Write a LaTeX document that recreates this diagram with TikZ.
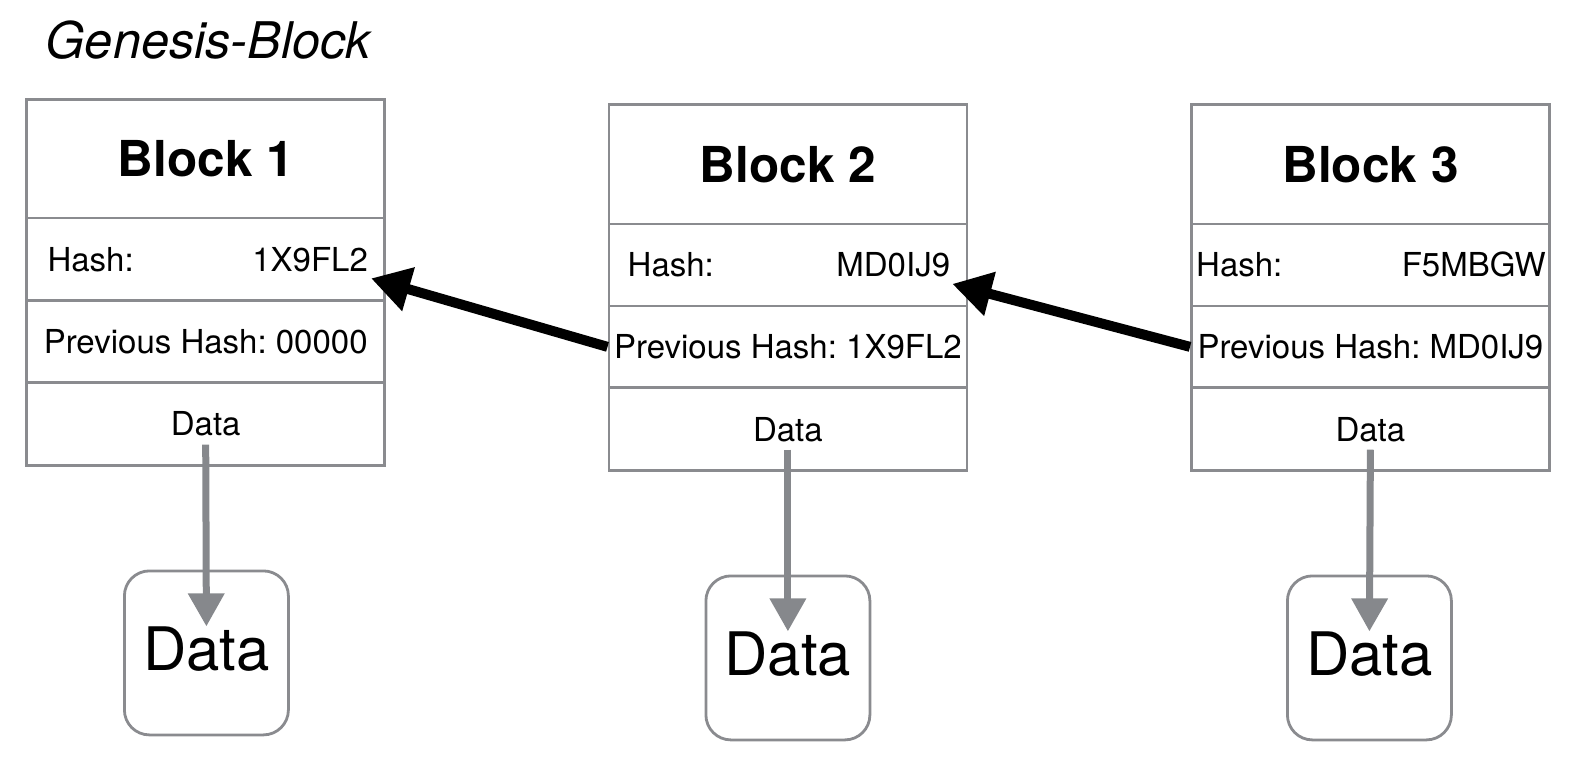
\documentclass[tikz,border=0pt]{standalone}
\usepackage{fontspec}
\setmainfont{TeX Gyre Heros}
\usetikzlibrary{arrows.meta}
\definecolor{bordergray}{HTML}{8A8B8F}
\definecolor{arrowgray}{HTML}{86888C}
\frenchspacing
\begin{document}
\begin{tikzpicture}[x=1pt,y=-1pt,
  cell/.style={draw=bordergray, line width=2.8pt, minimum width=358pt, inner sep=0pt, anchor=north west},
  rowfont/.style={font=\fontsize{33}{38}\selectfont},
  titlefont/.style={font=\fontsize{49.5}{56}\selectfont\bfseries},
  txt/.style={inner sep=0pt, rowfont},
  databox/.style={draw=bordergray, line width=2.8pt, rounded corners=25pt, minimum width=164pt, minimum height=164pt, inner sep=0pt, anchor=north west},
  bigtxt/.style={inner sep=0pt, font=\fontsize{60}{66}\selectfont},
  grayarrow/.style={draw=arrowgray, line width=7pt, -{Triangle[length=33pt,width=35pt]}, arrowgray},
  blackarrow/.style={draw=black, line width=10pt, -{Triangle[length=39pt,width=43pt]}}
]
\useasboundingbox (0,0) rectangle (1586,774);

\node[anchor=west, inner sep=0pt, font=\fontsize{50.5}{56}\selectfont\itshape] (gen) at (45.5,40.5) {Genesis-Block};

% Block 1
\node[cell, minimum height=118.4pt, titlefont] (b1t) at (25.3,98.1) {Block 1};
\node[cell, minimum height=82.9pt] (b1h) at (25.3,216.5) {};
\node[txt, anchor=west] (b1hl) at ([xshift=22pt]b1h.west) {Hash:};
\node[txt, anchor=east] (b1hv) at ([xshift=-18pt]b1h.east) {1X9FL2};
\node[cell, minimum height=81.9pt, rowfont] (b1p) at (25.3,299.4) {Previous Hash: 00000};
\node[cell, minimum height=83pt] (b1d) at (25.3,381.3) {};
\node[txt] (b1dt) at (b1d.center) {Data};

% Block 2
\node[cell, minimum height=119.3pt, titlefont] (b2t) at (607.5,103.2) {Block 2};
\node[cell, minimum height=82pt] (b2h) at (607.5,222.5) {};
\node[txt, anchor=west] (b2hl) at ([xshift=20pt]b2h.west) {Hash:};
\node[txt, anchor=east] (b2hv) at ([xshift=-18pt]b2h.east) {MD0IJ9};
\node[cell, minimum height=81.9pt, rowfont] (b2p) at (607.5,304.5) {Previous Hash: 1X9FL2};
\node[cell, minimum height=82.9pt] (b2d) at (607.5,386.4) {};
\node[txt] (b2dt) at (b2d.center) {Data};

% Block 3
\node[cell, minimum height=119.3pt, titlefont] (b3t) at (1190,103.2) {Block 3};
\node[cell, minimum height=82pt] (b3h) at (1190,222.5) {};
\node[txt, anchor=west] (b3hl) at ([xshift=6pt]b3h.west) {Hash:};
\node[txt, anchor=east] (b3hv) at ([xshift=-5pt]b3h.east) {F5MBGW};
\node[cell, minimum height=81.9pt, rowfont] (b3p) at (1190,304.5) {Previous Hash: MD0IJ9};
\node[cell, minimum height=82.9pt] (b3d) at (1190,386.4) {};
\node[txt] (b3dt) at (b3d.center) {Data};

% Data boxes
\node[databox] (d1) at (123,569.5) {};
\node[bigtxt] (d1t) at ([yshift=4pt]d1.center) {Data};
\node[databox] (d2) at (704.5,574.5) {};
\node[bigtxt] (d2t) at ([yshift=4pt]d2.center) {Data};
\node[databox] (d3) at (1286,574.5) {};
\node[bigtxt] (d3t) at ([yshift=4pt]d3.center) {Data};

% Gray arrows
\draw[grayarrow] ([yshift=-8pt]b1dt.south) -- (d1t.north);
\draw[grayarrow] ([yshift=-8pt]b2dt.south) -- (d2t.north);
\draw[grayarrow] ([yshift=-8pt]b3dt.south) -- (d3t.north);

% Black arrows
\coordinate (tip1) at ([xshift=-15pt,yshift=-19pt]b1h.east);
\coordinate (tip2) at ([xshift=-16pt,yshift=-19pt]b2h.east);
\draw[blackarrow] (b2p.west) -- (tip1);
\draw[blackarrow] (b3p.west) -- (tip2);
\end{tikzpicture}
\end{document}
